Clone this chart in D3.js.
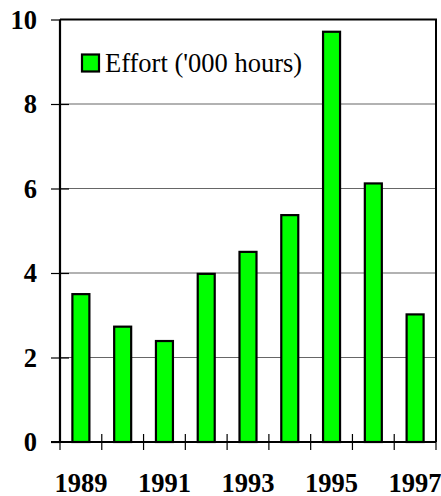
<!DOCTYPE html>
<html>
<head>
<meta charset="utf-8">
<script src="https://cdn.jsdelivr.net/npm/d3@7"></script>
<style>
  html, body { margin: 0; padding: 0; background: #fff; }
  svg { display: block; }
  svg text { font-family: "Liberation Serif", "Times New Roman", Times, "DejaVu Serif", serif; }
</style>
</head>
<body>
<svg id="chart" width="441" height="496"></svg>
<script>
// Annual effort, thousands of hours
const years = ["1989", "1990", "1991", "1992", "1993", "1994", "1995", "1996", "1997"];
const effort = [3.5, 2.73, 2.39, 3.98, 4.5, 5.37, 9.71, 6.12, 3.02];
const yTicks = [0, 2, 4, 6, 8, 10];
const xLabelYears = ["1989", "1991", "1993", "1995", "1997"];
const seriesName = "Effort ('000 hours)";

const svg = d3.select("#chart");
const plotLeft = 60, plotRight = 436, plotTop = 19.5, plotBottom = 442;

const x = d3.scaleBand().domain(years).range([plotLeft, plotRight]).padding(0);
const y = d3.scaleLinear().domain([0, 10]).range([plotBottom, plotTop]);

// horizontal gridlines
svg.append("g")
  .selectAll("line")
  .data(yTicks.filter(d => d > 0 && d < 10))
  .join("line")
  .attr("x1", plotLeft).attr("x2", plotRight)
  .attr("y1", d => y(d)).attr("y2", d => y(d))
  .attr("stroke", "#666").attr("stroke-width", 1.2);

// bars
const barW = 17;
svg.append("g")
  .selectAll("rect")
  .data(years.map((yr, i) => ({ yr, v: effort[i] })))
  .join("rect")
  .attr("x", d => x(d.yr) + x.bandwidth() / 2 - barW / 2)
  .attr("y", d => y(d.v))
  .attr("width", barW)
  .attr("height", d => y(0) - y(d.v))
  .attr("fill", "#00ff00")
  .attr("stroke", "#000")
  .attr("stroke-width", 2.2);

// frame: top and right borders
svg.append("path")
  .attr("d", `M${plotLeft},${plotTop}H${plotRight}V${plotBottom}`)
  .attr("fill", "none").attr("stroke", "#000").attr("stroke-width", 2);

// y axis
const yAxis = svg.append("g")
  .attr("transform", `translate(${plotLeft},0)`)
  .call(d3.axisLeft(y).tickValues(yTicks).tickSize(9).tickPadding(14).tickFormat(d3.format("d")));
yAxis.attr("font-family", null).attr("font-size", null);
yAxis.select(".domain").attr("stroke", "#000").attr("stroke-width", 2.2)
  .attr("d", `M0,${plotTop}V${plotBottom}`);
yAxis.selectAll(".tick line").attr("stroke", "#000").attr("stroke-width", 1.2)
  .attr("x1", d => (d > 0 && d < 10) ? 9 : 0);
yAxis.selectAll(".tick text")
  .style("font-weight", "bold").style("font-size", "26.5px")
  .attr("fill", "#000").attr("dy", "0.33em");

// x axis
const xAxis = svg.append("g")
  .attr("transform", `translate(0,${plotBottom})`)
  .call(d3.axisBottom(x).tickSize(0).tickPadding(0)
    .tickFormat(d => xLabelYears.includes(d) ? d : ""));
xAxis.attr("font-family", null).attr("font-size", null);
xAxis.select(".domain").attr("stroke", "#000").attr("stroke-width", 2.2)
  .attr("d", `M${plotLeft - 9},0H${plotRight}`);
xAxis.selectAll(".tick text")
  .style("font-weight", "bold").style("font-size", "26.5px")
  .attr("fill", "#000").attr("y", 49.5).attr("dy", 0);

// category boundary ticks crossing the baseline
const bounds = years.map(yr => x(yr)).concat([plotRight]);
svg.append("g")
  .selectAll("line")
  .data(bounds)
  .join("line")
  .attr("x1", d => d).attr("x2", d => d)
  .attr("y1", (d, i) => (i === 0 || i === bounds.length - 1) ? plotBottom : plotBottom - 8)
  .attr("y2", plotBottom + 8)
  .attr("stroke", "#000").attr("stroke-width", 1.2);

// legend
const legend = svg.append("g").attr("transform", "translate(81,53.5)");
legend.append("rect")
  .attr("x", 1).attr("y", 1).attr("width", 17).attr("height", 17)
  .attr("fill", "#00ff00").attr("stroke", "#000").attr("stroke-width", 2.2);
legend.append("text")
  .attr("x", 24).attr("y", 18)
  .style("font-size", "26.5px").attr("fill", "#000")
  .text(seriesName);
</script>
</body>
</html>
